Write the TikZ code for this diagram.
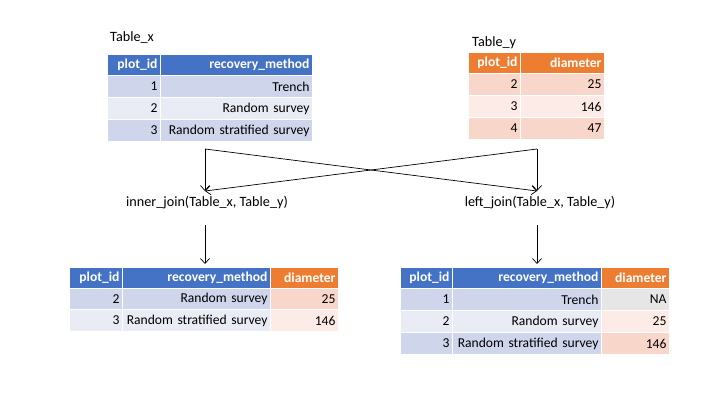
\documentclass[tikz,border=0pt]{standalone}
\usepackage{fontspec}
\setmainfont{Carlito}
\usetikzlibrary{arrows.meta}
\definecolor{hblue}{HTML}{4472C4}
\definecolor{bdark}{HTML}{CFD5EA}
\definecolor{blight}{HTML}{E9EBF5}
\definecolor{horange}{HTML}{ED7D31}
\definecolor{odark}{HTML}{F8D6CA}
\definecolor{olight}{HTML}{FCEBE6}
\definecolor{nagray}{HTML}{E6E6E6}
\tikzset{
  cellbox/.style={rectangle, draw=white, line width=1pt, anchor=north west,
    inner xsep=3pt, inner ysep=0pt, align=right, text=black,
    font=\fontsize{13.6}{15}\selectfont},
  headcell/.style={text=white, font=\fontsize{13.6}{15}\selectfont\bfseries},
  plain/.style={inner sep=0pt, font=\fontsize{14.2}{16}\selectfont},
  arr/.style={-{Straight Barb[length=5pt,width=9pt]}, line width=0.7pt, black}
}
\newcommand{\tcell}[8]{%
  \pgfmathsetmacro{\tw}{#4-6}%
  \node[cellbox, fill=#6, text width=\tw pt, minimum height=#5pt, #7] (#1) at (#2,#3) {\mbox{#8}};%
}
\begin{document}
\begin{tikzpicture}[x=1pt,y=-1pt]
\useasboundingbox (0,0) rectangle (720,405);
\fill[white] (0,0) rectangle (720,405);

% Table_x
\node[plain, anchor=west] (tx) at (110,38) {Table\_x};
\tcell{x00}{107}{54}{53}{21}{hblue}{headcell}{plot\_id}
\tcell{x01}{160}{54}{152}{21}{hblue}{headcell}{recovery\_method}
\tcell{x10}{107}{75}{53}{22}{bdark}{}{1}
\tcell{x11}{160}{75}{152}{22}{bdark}{}{Trench}
\tcell{x20}{107}{97}{53}{22}{blight}{}{2}
\tcell{x21}{160}{97}{152}{22}{blight}{}{Random survey}
\tcell{x30}{107}{119}{53}{22}{bdark}{}{3}
\tcell{x31}{160}{119}{152}{22}{bdark}{}{Random stratified survey}

% Table_y
\node[plain, anchor=west] (ty) at (472,43) {Table\_y};
\tcell{y00}{468}{52}{52}{21}{horange}{headcell}{plot\_id}
\tcell{y01}{520}{52}{84}{21}{horange}{headcell}{diameter}
\tcell{y10}{468}{73}{52}{22}{odark}{}{2}
\tcell{y11}{520}{73}{84}{22}{odark}{}{25}
\tcell{y20}{468}{95}{52}{22}{olight}{}{3}
\tcell{y21}{520}{95}{84}{22}{olight}{}{146}
\tcell{y30}{468}{117}{52}{22}{odark}{}{4}
\tcell{y31}{520}{117}{84}{22}{odark}{}{47}

% join labels
\node[plain] (ij) at (207,203) {inner\_join(Table\_x, Table\_y)};
\node[plain] (lj) at (540,203) {left\_join(Table\_x, Table\_y)};

% connector anchor points
\coordinate (xs) at (205,149);
\coordinate (ys) at (537,149);
\coordinate (ijin) at (205,191);
\coordinate (ljin) at (537,191);
\coordinate (ijout) at (205,225);
\coordinate (ljout) at (537,225);
\coordinate (blin) at (205,264);
\coordinate (brin) at (537,264);

\draw[arr] (xs) -- (ijin);
\draw[arr] (xs) -- (ljin);
\draw[arr] (ys) -- (ljin);
\draw[arr] (ys) -- (ijin);
\draw[arr] (ijout) -- (blin);
\draw[arr] (ljout) -- (brin);

% inner join result
\tcell{a00}{69}{267}{53}{21}{hblue}{headcell}{plot\_id}
\tcell{a01}{122}{267}{148}{21}{hblue}{headcell}{recovery\_method}
\tcell{a02}{270}{267}{68}{21}{horange}{headcell}{diameter}
\tcell{a10}{69}{288}{53}{21}{bdark}{}{2}
\tcell{a11}{122}{288}{148}{21}{bdark}{}{Random survey}
\tcell{a12}{270}{288}{68}{21}{odark}{}{25}
\tcell{a20}{69}{309}{53}{22}{blight}{}{3}
\tcell{a21}{122}{309}{148}{22}{blight}{}{Random stratified survey}
\tcell{a22}{270}{309}{68}{22}{olight}{}{146}

% left join result
\tcell{b00}{400}{267}{52}{21}{hblue}{headcell}{plot\_id}
\tcell{b01}{452}{267}{149}{21}{hblue}{headcell}{recovery\_method}
\tcell{b02}{601}{267}{68}{21}{horange}{headcell}{diameter}
\tcell{b10}{400}{288}{52}{22}{bdark}{}{1}
\tcell{b11}{452}{288}{149}{22}{bdark}{}{Trench}
\tcell{b12}{601}{288}{68}{22}{nagray}{}{NA}
\tcell{b20}{400}{310}{52}{22}{blight}{}{2}
\tcell{b21}{452}{310}{149}{22}{blight}{}{Random survey}
\tcell{b22}{601}{310}{68}{22}{olight}{}{25}
\tcell{b30}{400}{332}{52}{22}{bdark}{}{3}
\tcell{b31}{452}{332}{149}{22}{bdark}{}{Random stratified survey}
\tcell{b32}{601}{332}{68}{22}{odark}{}{146}
\end{tikzpicture}
\end{document}
